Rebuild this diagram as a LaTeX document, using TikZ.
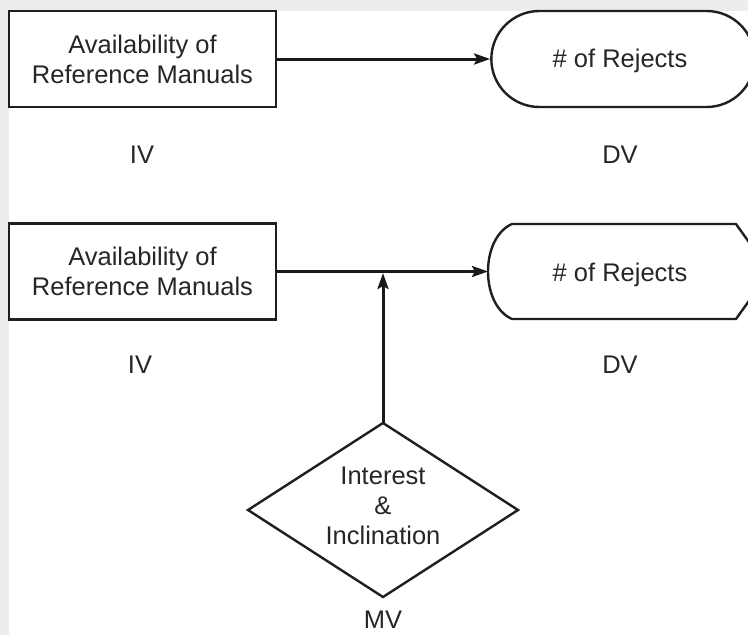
\documentclass[tikz,border=0pt]{standalone}
\usepackage{fontspec}
\setmainfont{Liberation Sans}
\usetikzlibrary{arrows.meta,shapes.misc}
\begin{document}
\begin{tikzpicture}[x=1pt,y=-1pt,
  ink/.style={draw=black!88, line width=2.4pt},
  txt/.style={font=\fontsize{25.5}{30}\selectfont, text=black!85, align=center, inner sep=0pt},
  varbox/.style={ink, txt, rectangle, minimum width=267pt, minimum height=96pt},
  link/.style={draw=black!90, line width=3pt, -{Stealth[length=16pt,width=11pt,inset=3pt]}},
]
% page background with a light frame on the top and left
\fill[black!7] (0,0) rectangle (748,635);
\fill[white] (9,11) rectangle (748,635);
\useasboundingbox (0,0) rectangle (748,635);

% ---- upper model: IV -> DV
\node[varbox] (ref1) at (142.5,59) {Availability of\\Reference Manuals};
\node[ink, rounded rectangle, minimum width=270pt, minimum height=96pt] (rej1) at (623,59) {};
\node[txt] (rej1t) at (620,61) {\# of Rejects};
\draw[link] (ref1.east) -- (rej1.west);
\node[txt] (iv1) at (142,155) {IV};
\node[txt] (dv1) at (620,155) {DV};

% ---- lower model: IV -> DV moderated by MV
\node[varbox] (ref2) at (142.5,271.5) {Availability of\\Reference Manuals};
\draw[ink] (512,224) -- (736,224) -- (770,271.5) -- (736,319) -- (512,319)
  .. controls (480,305) and (480,238) .. cycle;
\coordinate (rej2w) at (488,271.5);
\node[txt] (rej2) at (620,275) {\# of Rejects};
\draw[link] (ref2.east) -- (rej2w);
\node[txt] (iv2) at (140,365) {IV};
\node[txt] (dv2) at (620,365) {DV};

% moderator diamond
\coordinate (mvtop) at (383,423);
\draw[ink] (mvtop) -- (518,510) -- (383,597) -- (248,510) -- cycle;
\node[txt] (mvtext) at (383,506) {Interest\\\&\\Inclination};
\coordinate (join) at (383,273);
\draw[link] (mvtop) -- (join);
\node[txt] (mv) at (383,620) {MV};
\end{tikzpicture}
\end{document}
